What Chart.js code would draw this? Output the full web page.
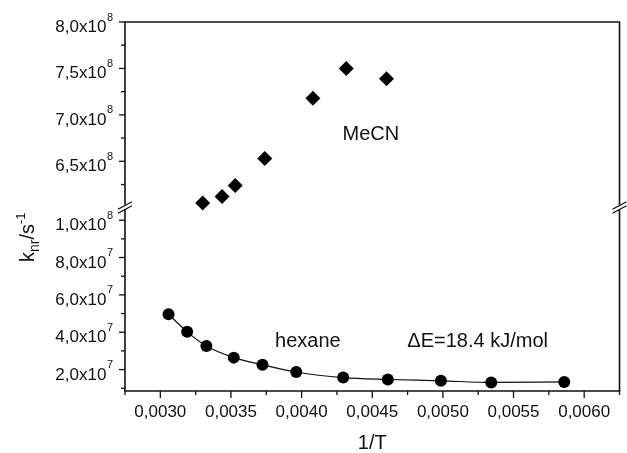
<!DOCTYPE html>
<html><head><meta charset="utf-8">
<script src="https://cdn.jsdelivr.net/npm/chart.js@4/dist/chart.umd.min.js"></script>
<style>html,body{margin:0;padding:0;background:#fff}</style>
</head><body>
<canvas id="c" width="627" height="453"></canvas>
<script>
// ---- data ----
const mecnX = [0.003300, 0.003437, 0.003530, 0.003739, 0.004080, 0.004316, 0.004601];
const mecnK = [6.05e8, 6.12e8, 6.24e8, 6.53e8, 7.18e8, 7.50e8, 7.39e8];
const hexX = [0.003058, 0.003190, 0.003326, 0.003520, 0.003723, 0.003962, 0.004294, 0.004610, 0.004986, 0.005342, 0.005859];
const hexK = [4.96e7, 4.02e7, 3.26e7, 2.64e7, 2.26e7, 1.87e7, 1.57e7, 1.47e7, 1.40e7, 1.31e7, 1.34e7];

// ---- axes / ticks ----
const xRange = [0.00275, 0.00625];
const xMajor = [0.0030, 0.0035, 0.0040, 0.0045, 0.0050, 0.0055, 0.0060];
const xLabels = ['0,0030', '0,0035', '0,0040', '0,0045', '0,0050', '0,0055', '0,0060'];
const xMinor = [0.00275, 0.00325, 0.00375, 0.00425, 0.00475, 0.00525, 0.00575, 0.00625];

const yHighRange = [6.0e8, 8.0e8];
const yHighMajor = [6.5e8, 7.0e8, 7.5e8, 8.0e8];
const yHighMant = ['6,5x10', '7,0x10', '7,5x10', '8,0x10'];
const yHighExp = ['8', '8', '8', '8'];
const yHighMinor = [6.25e8, 6.75e8, 7.25e8, 7.75e8];

const yLowRange = [0.853e7, 1.0666e8];
const yLowMajor = [2e7, 4e7, 6e7, 8e7, 1e8];
const yLowMant = ['2,0x10', '4,0x10', '6,0x10', '8,0x10', '1,0x10'];
const yLowExp = ['7', '7', '7', '7', '8'];
const yLowMinor = [1e7, 3e7, 5e7, 7e7, 9e7];

// annotations (data coordinates)
const notes = [
  {text: 'MeCN', x: 0.00449, y: 6.73e8, axis: 'yHigh'},
  {text: 'hexane', x: 0.004044, y: 3.21e7, axis: 'yLow'},
  {text: '\u0394E=18.4 kJ/mol', x: 0.005246, y: 3.21e7, axis: 'yLow'}
];

const FONT = '"Liberation Sans", Arial, Helvetica, sans-serif';
const INK = '#111';

const hidden = {
  display: true,
  ticks: {display: false},
  grid: {display: false, drawTicks: false},
  border: {display: false}
};

const framePlugin = {
  id: 'frame',
  afterDraw(chart) {
    const ctx = chart.ctx, a = chart.chartArea;
    const xs = chart.scales.x, yl = chart.scales.yLow, yh = chart.scales.yHigh;
    const brk = (yh.bottom + yl.top) / 2;
    const line = (x1, y1, x2, y2) => { ctx.beginPath(); ctx.moveTo(x1, y1); ctx.lineTo(x2, y2); ctx.stroke(); };
    ctx.save();
    ctx.strokeStyle = INK; ctx.lineWidth = 1.6; ctx.lineCap = 'butt';
    line(a.left - 1, a.top, a.right + 0.8, a.top);
    line(a.left - 1, a.bottom, a.right + 0.8, a.bottom);
    for (const X of [a.left, a.right]) {
      line(X, a.top, X, brk - 3);
      line(X, brk + 1.5, X, a.bottom);
      ctx.lineWidth = 1.3;
      line(X - 7, brk + 1.5, X + 7, brk - 6);
      line(X - 7, brk + 5.5, X + 7, brk - 2);
      ctx.lineWidth = 1.6;
    }
    // ticks
    ctx.lineWidth = 1.3;
    const yt = (scale, vals, len) => vals.forEach(v => { const y = scale.getPixelForValue(v); line(a.left - len, y, a.left, y); });
    yt(yh, yHighMajor, 6); yt(yh, yHighMinor, 4);
    yt(yl, yLowMajor, 6); yt(yl, yLowMinor, 4);
    xMajor.forEach(v => { const x = xs.getPixelForValue(v); line(x, a.bottom, x, a.bottom + 7); });
    xMinor.forEach(v => { const x = xs.getPixelForValue(v); line(x, a.bottom, x, a.bottom + 4); });

    // tick labels
    ctx.fillStyle = INK;
    ctx.textBaseline = 'alphabetic';
    const yLab = (scale, vals, mant, exps) => vals.forEach((v, i) => {
      const y = scale.getPixelForValue(v);
      ctx.font = '11px ' + FONT;
      const ew = ctx.measureText(exps[i]).width;
      const right = a.left - 12;
      ctx.textAlign = 'right';
      ctx.fillText(exps[i], right, y - 1.5);
      ctx.font = '17px ' + FONT;
      ctx.fillText(mant[i], right - ew - 0.5, y + 10);
    });
    yLab(yh, yHighMajor, yHighMant, yHighExp);
    yLab(yl, yLowMajor, yLowMant, yLowExp);
    ctx.font = '17px ' + FONT; ctx.textAlign = 'center';
    xMajor.forEach((v, i) => ctx.fillText(xLabels[i], xs.getPixelForValue(v), a.bottom + 26));

    // annotations
    ctx.font = '20px ' + FONT;
    notes.forEach(n => ctx.fillText(n.text, xs.getPixelForValue(n.x), chart.scales[n.axis].getPixelForValue(n.y)));

    // x title
    ctx.fillText('1/T', (a.left + a.right) / 2, 449);

    // y title: k_nr / s^-1, rotated
    ctx.translate(34, 262);
    ctx.rotate(-Math.PI / 2);
    ctx.textAlign = 'left';
    let px = 0;
    const part = (t, size, dy) => { ctx.font = size + 'px ' + FONT; ctx.fillText(t, px, dy); px += ctx.measureText(t).width; };
    part('k', 20, 0);
    part('nr', 14, 5);
    part('/s', 20, 0);
    part('-1', 13, -9);
    ctx.restore();
  }
};

new Chart(document.getElementById('c'), {
  type: 'scatter',
  data: {
    datasets: [
      {
        label: 'MeCN',
        data: mecnX.map((x, i) => ({x, y: mecnK[i]})),
        yAxisID: 'yHigh',
        clip: false,
        pointStyle: 'rectRot', pointRadius: 7.5,
        backgroundColor: '#000', borderColor: '#000', borderWidth: 0,
        showLine: false
      },
      {
        label: 'hexane',
        data: hexX.map((x, i) => ({x, y: hexK[i]})),
        yAxisID: 'yLow',
        clip: false,
        pointStyle: 'circle', pointRadius: 6,
        pointBackgroundColor: '#000', pointBorderColor: '#000', pointBorderWidth: 0,
        borderColor: '#111', borderWidth: 1.2,
        showLine: true, cubicInterpolationMode: 'monotone'
      }
    ]
  },
  options: {
    responsive: false,
    animation: false,
    events: [],
    layout: {padding: {left: 125, right: 5, top: 22, bottom: 62}},
    plugins: {legend: {display: false}, tooltip: {enabled: false}},
    scales: {
      x: Object.assign({type: 'linear', position: 'bottom', min: xRange[0], max: xRange[1]}, hidden),
      yLow: Object.assign({type: 'linear', position: 'left', stack: 'k', stackWeight: 183.1, min: yLowRange[0], max: yLowRange[1]}, hidden),
      yHigh: Object.assign({type: 'linear', position: 'left', stack: 'k', stackWeight: 185.6, min: yHighRange[0], max: yHighRange[1]}, hidden)
    }
  },
  plugins: [framePlugin]
});
</script>
</body></html>
